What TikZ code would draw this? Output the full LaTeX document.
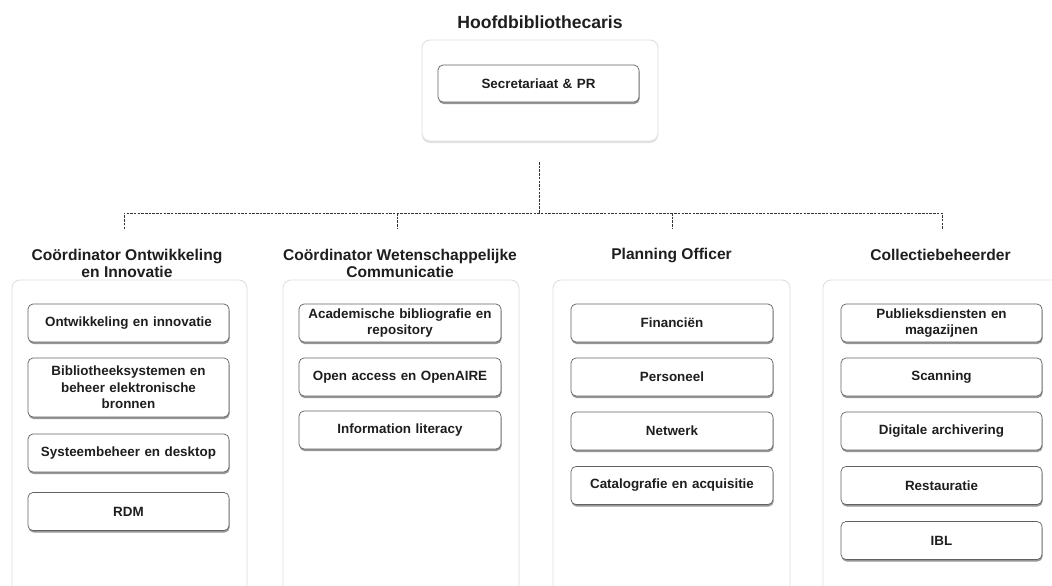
\documentclass[tikz,border=0pt]{standalone}
\usepackage{fontspec}
\setmainfont{Liberation Sans}
\usetikzlibrary{shadows}
\definecolor{txt}{HTML}{1E1E1E}
\tikzset{
  panel/.style={draw=black!13, fill=white, rounded corners=8pt, line width=0.8pt,
    drop shadow={shadow xshift=0pt, shadow yshift=-2pt, opacity=0.12, fill=black}},
  unit/.style={draw=black!62, fill=white, rounded corners=5pt, line width=0.7pt,
    drop shadow={shadow xshift=0.6pt, shadow yshift=-2pt, opacity=0.55, fill=black!75},
    font=\bfseries\fontsize{13.4}{16.5}\selectfont, text=txt, align=center,
    text width=196pt, minimum width=202pt, minimum height=38pt, inner sep=0pt},
  head/.style={font=\bfseries\fontsize{15.6}{17.5}\selectfont, text=txt, align=center, inner sep=0pt},
  conn/.style={draw=black!80, line width=0.7pt, dash pattern=on 2.5pt off 1.2pt}
}
\begin{document}
\begin{tikzpicture}[x=1pt,y=-1pt]
\useasboundingbox (0,0) rectangle (1052,586);
\begin{scope}
\clip (0,0) rectangle (1052,586);
% top panel
\node[panel, minimum width=236pt, minimum height=101pt, inner sep=0pt] (toppanel) at (540,90.5) {};
% column panels
\node[panel, minimum width=235pt, minimum height=330pt, inner sep=0pt] (p1) at (129.5,445) {};
\node[panel, minimum width=236pt, minimum height=330pt, inner sep=0pt] (p2) at (401,445) {};
\node[panel, minimum width=237pt, minimum height=330pt, inner sep=0pt] (p3) at (671.5,445) {};
\node[panel, minimum width=237pt, minimum height=330pt, inner sep=0pt] (p4) at (941.5,445) {};
\end{scope}

% title
\node[head, font=\bfseries\fontsize{17.6}{20}\selectfont] (boss) at (540,22) {Hoofdbibliothecaris};
\node[unit, minimum width=201pt, minimum height=37pt] (secr) at (538.5,83.5) {Secretariaat \& PR};

% headers
\node[head] (h1) at (127,263.5) {Coördinator Ontwikkeling\\en Innovatie};
\node[head] (h2) at (400,263.5) {Coördinator Wetenschappelijke\\Communicatie};
\node[head] (h3) at (671.5,255) {Planning Officer};
\node[head] (h4) at (940.5,255) {Collectiebeheerder};

% connectors
\coordinate (top) at (539,162);
\coordinate (hub) at (539,213);
\coordinate (e1) at (124,229);
\coordinate (e2) at (397,229);
\coordinate (e3) at (672,229);
\coordinate (e4) at (942,229);
\draw[conn] (top) -- (hub);
\draw[conn] (e1) -- (e1 |- hub) -- (e4 |- hub) -- (e4);
\draw[conn] (e2 |- hub) -- (e2);
\draw[conn] (e3 |- hub) -- (e3);

% column 1
\node[unit, minimum width=201pt] (a1) at (128.5,323) {Ontwikkeling en innovatie};
\node[unit, minimum width=201pt, minimum height=59pt] (a2) at (128.5,387.5) {Bibliotheeksystemen en\\beheer elektronische\\bronnen};
\node[unit, minimum width=201pt] (a3) at (128.5,453) {Systeembeheer en desktop};
\node[unit, minimum width=201pt] (a4) at (128.5,511.5) {RDM};

% column 2
\node[unit] (b1) at (400,323) {Academische bibliografie en\\repository};
\node[unit] (b2) at (400,377) {Open access en OpenAIRE};
\node[unit] (b3) at (400,430) {Information literacy};

% column 3
\node[unit] (c1) at (672,323) {Financiën};
\node[unit] (c2) at (672,377) {Personeel};
\node[unit] (c3) at (672,431) {Netwerk};
\node[unit] (c4) at (672,485.5) {Catalografie en acquisitie};

% column 4
\node[unit, minimum width=201pt] (d1) at (941.5,323) {Publieksdiensten en\\magazijnen};
\node[unit, minimum width=201pt] (d2) at (941.5,377) {Scanning};
\node[unit, minimum width=201pt] (d3) at (941.5,431) {Digitale archivering};
\node[unit, minimum width=201pt] (d4) at (941.5,485.5) {Restauratie};
\node[unit, minimum width=201pt] (d5) at (941.5,540.5) {IBL};
\end{tikzpicture}
\end{document}
